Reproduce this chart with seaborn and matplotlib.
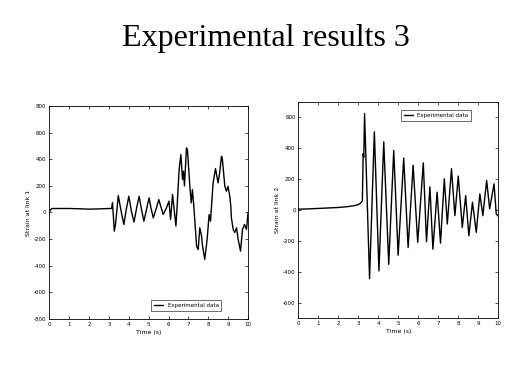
import matplotlib
matplotlib.use("Agg")
import matplotlib.pyplot as plt
import seaborn as sns
import pandas as pd

# ---- data ----
t1 = [0, 0.05, 0.15, 0.5, 1.0, 1.5, 2.0, 2.5, 3.0, 3.13, 3.18, 3.27, 3.33, 3.47, 3.6,
      3.75, 3.88, 4.0, 4.13, 4.26, 4.4, 4.52, 4.64, 4.76, 4.9, 5.02, 5.12, 5.23, 5.38,
      5.51, 5.62, 5.73, 5.88, 6.02, 6.1, 6.2, 6.37, 6.43, 6.53, 6.62, 6.70, 6.75, 6.80,
      6.90, 6.95, 7.07, 7.14, 7.20, 7.27, 7.41, 7.49, 7.57, 7.66, 7.71, 7.82, 7.94, 8.04,
      8.11, 8.24, 8.36, 8.49, 8.57, 8.66, 8.70, 8.83, 8.91, 8.99, 9.08, 9.13, 9.16, 9.25,
      9.33, 9.42, 9.50, 9.62, 9.72, 9.82, 9.92, 10.0]
s1 = [0, 20, 30, 30, 30, 28, 25, 27, 30, 30, 73, -140, -90, 127, 20,
      -90, 30, 122, 10, -72, 40, 122, 20, -65, 30, 110, 30, -40, 30,
      97, 40, -15, 30, 85, -52, 135, -102, 47, 322, 435, 248, 310, 200,
      485, 470, 197, 72, 172, 47, -252, -278, -115, -178, -252, -352, -202, -15,
      -65, 222, 330, 222, 297, 422, 410, 197, 160, 197, 122, 47, -40, -127,
      -150, -115, -202, -290, -127, -90, -127, 0]

t2 = [0, 0.5, 1.0, 1.5, 2.0, 2.5, 2.8, 3.0, 3.12, 3.2, 3.24, 3.27, 3.31, 3.56, 3.80,
      4.03, 4.27, 4.52, 4.77, 4.99, 5.27, 5.49, 5.74, 5.97, 6.25, 6.41, 6.58, 6.73,
      6.94, 7.11, 7.30, 7.45, 7.66, 7.83, 8.0, 8.2, 8.37, 8.53, 8.71, 8.90, 9.08,
      9.23, 9.42, 9.57, 9.79, 9.90, 10.0]
s2 = [5, 7, 10, 13, 16, 22, 28, 35, 45, 60, 365, 340, 625, -445, 506,
      -395, 441, -352, 386, -293, 336, -243, 290, -210, 305, -206, 150, -254,
      115, -215, 202, -91, 267, -37, 219, -113, 93, -167, 50, -145, 104,
      -37, 191, 7, 169, -26, -40]

xticks = list(range(0, 11))
yticks1 = list(range(-800, 801, 200))
yticks2 = list(range(-600, 601, 200))

title = "Experimental results 3"
legend_label = "Experimental data"
xlabel = "Time (s)"
ylabel1 = "Strain at link 1"
ylabel2 = "Strain at link 2"

# ---- figure ----
sns.set_style("ticks")
plt.rcParams["font.family"] = ["DejaVu Sans"]
plt.rcParams["xtick.direction"] = "in"
plt.rcParams["ytick.direction"] = "in"
plt.rcParams["text.color"] = "black"
plt.rcParams["axes.labelcolor"] = "black"

fig = plt.figure(figsize=(5.19, 3.89), dpi=100)
ax1 = fig.add_axes([0.095, 0.180, 0.383, 0.5475])
ax2 = fig.add_axes([0.575, 0.1825, 0.385, 0.5555])

df1 = pd.DataFrame({"t": t1, "s": s1, "series": legend_label})
df2 = pd.DataFrame({"t": t2, "s": s2, "series": legend_label})

for ax, df, yt, ylim, ylab in [(ax1, df1, yticks1, (-800, 800), ylabel1),
                               (ax2, df2, yticks2, (-700, 700), ylabel2)]:
    sns.lineplot(data=df, x="t", y="s", hue="series", palette=["black"],
                 estimator=None, linewidth=1.0, ax=ax)
    ax.set_xlim(0, 10)
    ax.set_ylim(*ylim)
    ax.set_xticks(xticks)
    ax.set_yticks(yt)
    ax.set_xticklabels([str(v) for v in xticks])
    ax.set_yticklabels([str(v) for v in yt])
    ax.tick_params(axis="both", labelsize=4, length=2.5, width=0.5,
                   top=True, right=True, pad=2, colors="black")
    for sp in ax.spines.values():
        sp.set_visible(True)
        sp.set_linewidth(0.6)
        sp.set_color("black")
    ax.set_xlabel(xlabel, fontsize=4.5, labelpad=2, color="black")
    ax.set_ylabel(ylab, fontsize=4.5, labelpad=2, color="black")

leg1 = ax1.legend(loc="lower left", bbox_to_anchor=(0.50, 0.025), fontsize=4,
                  handlelength=1.6, frameon=True, fancybox=False, borderpad=0.5)
leg2 = ax2.legend(loc="upper left", bbox_to_anchor=(0.50, 0.975), fontsize=4,
                  handlelength=1.6, frameon=True, fancybox=False, borderpad=0.5)
for leg in (leg1, leg2):
    leg.get_frame().set_edgecolor("black")
    leg.get_frame().set_linewidth(0.5)

fig.text(0.512, 0.90, title, ha="center", va="center", color="black",
         fontsize=23, family=["Liberation Serif", "DejaVu Serif"])

fig.savefig("out.png", dpi=100)
